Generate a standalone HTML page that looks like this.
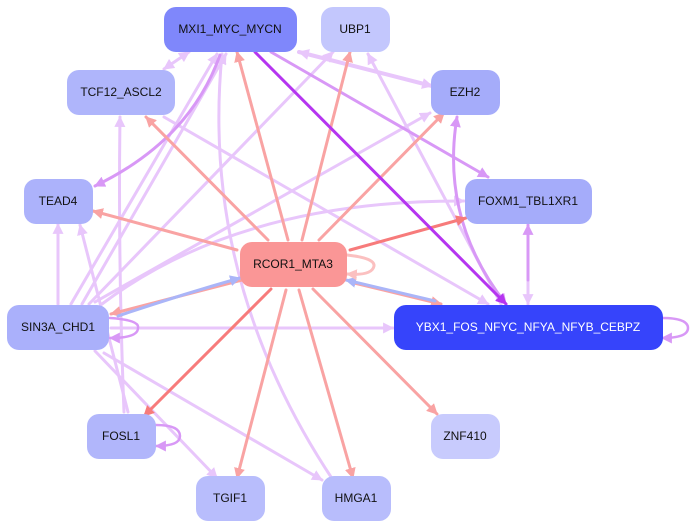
<!DOCTYPE html>
<html><head><meta charset="utf-8"><style>
html,body{margin:0;padding:0;background:#fff;}
svg{display:block;}
text{font-family:"Liberation Sans",sans-serif;font-size:12px;text-anchor:middle;dominant-baseline:central;}
</style></head><body>
<svg width="692" height="527" viewBox="0 0 692 527" xmlns="http://www.w3.org/2000/svg">
<defs>
<marker id="mL" viewBox="0 0 10 10" refX="9" refY="5" markerWidth="11" markerHeight="11" markerUnits="userSpaceOnUse" orient="auto-start-reverse"><path d="M0,0L10,5L0,10z" fill="#e8c6fb"/></marker>
<marker id="mM" viewBox="0 0 10 10" refX="9" refY="5" markerWidth="11" markerHeight="11" markerUnits="userSpaceOnUse" orient="auto-start-reverse"><path d="M0,0L10,5L0,10z" fill="#d898f6"/></marker>
<marker id="mS" viewBox="0 0 10 10" refX="9" refY="5" markerWidth="11" markerHeight="11" markerUnits="userSpaceOnUse" orient="auto-start-reverse"><path d="M0,0L10,5L0,10z" fill="#f9a3a3"/></marker>
<marker id="mR" viewBox="0 0 10 10" refX="9" refY="5" markerWidth="11" markerHeight="11" markerUnits="userSpaceOnUse" orient="auto-start-reverse"><path d="M0,0L10,5L0,10z" fill="#f77b7b"/></marker>
<marker id="mP" viewBox="0 0 10 10" refX="9" refY="5" markerWidth="11" markerHeight="11" markerUnits="userSpaceOnUse" orient="auto-start-reverse"><path d="M0,0L10,5L0,10z" fill="#b535f0"/></marker>
<marker id="mB" viewBox="0 0 10 10" refX="9" refY="5" markerWidth="11" markerHeight="11" markerUnits="userSpaceOnUse" orient="auto-start-reverse"><path d="M0,0L10,5L0,10z" fill="#aab5f8"/></marker>
<marker id="mK" viewBox="0 0 10 10" refX="9" refY="5" markerWidth="11" markerHeight="11" markerUnits="userSpaceOnUse" orient="auto-start-reverse"><path d="M0,0L10,5L0,10z" fill="#fbc0c0"/></marker>
</defs>
<g fill="none" stroke-width="3" stroke-linecap="round">
<g stroke="#e8c6fb" marker-end="url(#mL)">
<line x1="71" y1="304" x2="217" y2="54"/>
<line x1="82" y1="304" x2="226" y2="54"/>
<path d="M333,480 Q200,280 222,54"/>
<line x1="89" y1="304" x2="333" y2="52"/>
<line x1="95" y1="302" x2="430" y2="113"/>
<path d="M102,304 Q240,200 464,201"/>
<line x1="58" y1="304" x2="58" y2="224"/>
<path d="M124,412 Q118,260 120,117"/>
<line x1="128" y1="412" x2="80" y2="225"/>
<line x1="111" y1="328" x2="393" y2="328"/>
<line x1="95" y1="351" x2="217" y2="478"/>
<line x1="104" y1="353" x2="322" y2="480"/>
<line x1="164" y1="117" x2="488" y2="304"/>
<line x1="501" y1="304" x2="368" y2="54"/>
<line x1="528" y1="226" x2="528" y2="304"/>
<line x1="299" y1="52" x2="432" y2="86" marker-start="url(#mL)" stroke-width="4"/>
<line x1="189" y1="52" x2="164" y2="69" marker-start="url(#mL)"/>
</g>
<g stroke="#d898f6" marker-end="url(#mM)">
<line x1="271" y1="52" x2="488" y2="177"/>
<path d="M220,55 Q190,140 95,186"/>
<path d="M457,117 Q440,220 506,304" marker-start="url(#mM)"/>
<line x1="528" y1="280" x2="528" y2="225"/>
<path d="M110,318 Q140,320 138,328 Q138,338 110,338" stroke-width="2.5"/>
<path d="M156,425 Q180,425 180,436 Q180,446 156,446" stroke-width="2.5"/>
<path d="M662,318 Q688,318 688,328 Q688,338 662,338" stroke-width="2.5"/>
</g>
<g stroke="#f9a3a3" marker-end="url(#mS)">
<line x1="237" y1="250" x2="93" y2="211"/>
<line x1="268" y1="240" x2="146" y2="117"/>
<line x1="288" y1="240" x2="237" y2="52"/>
<line x1="302" y1="240" x2="350" y2="52"/>
<line x1="319" y1="240" x2="444" y2="113"/>
<line x1="350" y1="282" x2="441" y2="304"/>
<line x1="242" y1="280" x2="111" y2="314"/>
<line x1="286" y1="290" x2="237" y2="478"/>
<line x1="299" y1="290" x2="353" y2="478"/>
<line x1="313" y1="289" x2="437" y2="414"/>
</g>
<g stroke="#aab5f8" marker-end="url(#mB)">
<path d="M118,316 Q180,295 240,278"/>
<line x1="435" y1="301" x2="346" y2="280"/>
</g>
<g stroke="#f77b7b" marker-end="url(#mR)">
<line x1="350" y1="250" x2="466" y2="218"/>
<line x1="271" y1="289" x2="144" y2="416"/>
</g>
<path d="M347,255 Q375,258 374,266 Q372,276 347,274" stroke="#fbc0c0" marker-end="url(#mK)"/>
<line x1="255" y1="52" x2="506" y2="304" stroke="#b535f0" marker-end="url(#mP)"/>
</g>
<g>
<rect x="164" y="7" width="133" height="45" rx="12" fill="#7f87fb"/>
<rect x="321" y="7" width="69" height="45" rx="12" fill="#c3c7fd"/>
<rect x="67" y="70" width="108" height="45" rx="12" fill="#afb5fb"/>
<rect x="431" y="70" width="69" height="45" rx="12" fill="#a5acfa"/>
<rect x="24" y="179" width="69" height="45" rx="12" fill="#acb2fb"/>
<rect x="465" y="179" width="127" height="45" rx="12" fill="#a5acfa"/>
<rect x="240" y="242" width="107" height="45" rx="12" fill="#fa9696"/>
<rect x="7" y="305" width="102" height="45" rx="12" fill="#aab0fb"/>
<rect x="394" y="305" width="269" height="45" rx="12" fill="#3644fb"/>
<rect x="87" y="414" width="69" height="45" rx="12" fill="#b1b6fb"/>
<rect x="431" y="414" width="69" height="45" rx="12" fill="#c8cbfd"/>
<rect x="196" y="476" width="69" height="45" rx="12" fill="#b8bdfc"/>
<rect x="322" y="476" width="69" height="45" rx="12" fill="#b8bdfc"/>
</g>
<g fill="#111">
<text x="230" y="29">MXI1_MYC_MYCN</text>
<text x="355" y="29">UBP1</text>
<text x="121" y="92">TCF12_ASCL2</text>
<text x="465" y="92">EZH2</text>
<text x="58" y="201">TEAD4</text>
<text x="528" y="201">FOXM1_TBL1XR1</text>
<text x="293" y="264">RCOR1_MTA3</text>
<text x="58" y="327">SIN3A_CHD1</text>
<text x="528" y="327" fill="#fff">YBX1_FOS_NFYC_NFYA_NFYB_CEBPZ</text>
<text x="121" y="436">FOSL1</text>
<text x="465" y="436">ZNF410</text>
<text x="230" y="498">TGIF1</text>
<text x="356" y="498">HMGA1</text>
</g>
</svg>
</body></html>
